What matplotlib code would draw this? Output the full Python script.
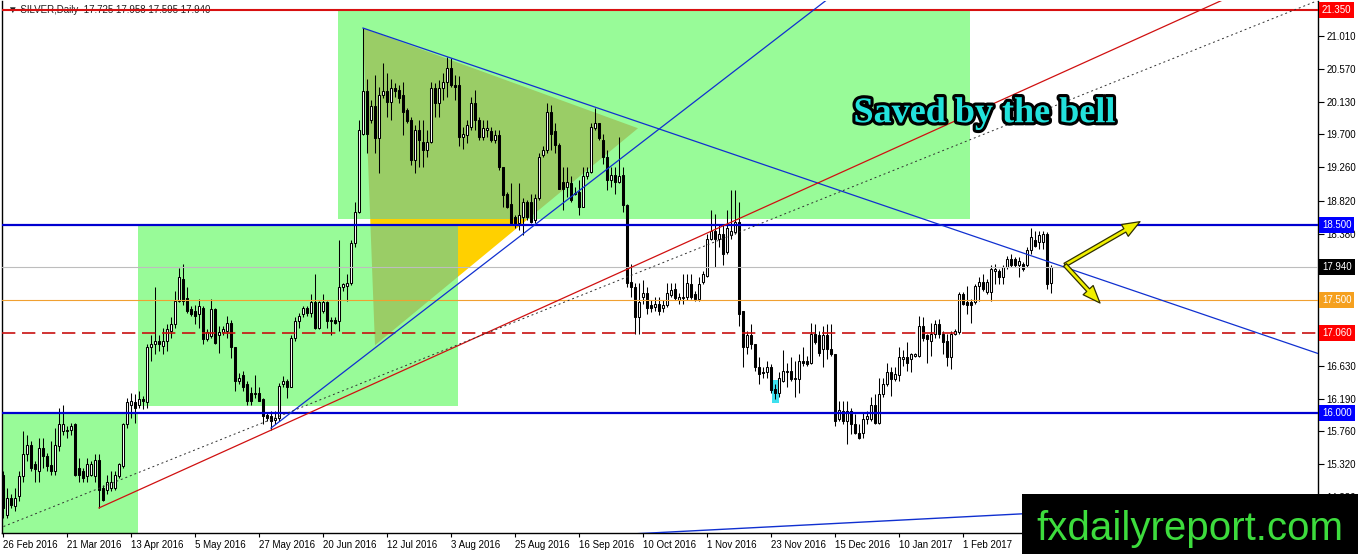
import matplotlib
matplotlib.use("Agg")

import numpy as np
import pandas as pd
import matplotlib.pyplot as plt
import matplotlib.patheffects as pe
from matplotlib import font_manager, transforms
from matplotlib.patches import Rectangle, Polygon

# дневные свечи SILVER, 26 фев 2016 - 3 мар 2017
opens = [
    15.18, 14.65, 14.87, 14.76, 14.90, 15.16, 15.45, 15.58, 15.32, 15.23,
    15.54, 15.43, 15.31, 15.23, 15.56, 15.76, 15.76, 15.78, 15.85, 15.27,
    15.23, 15.16, 15.18, 15.16, 15.38, 15.01, 14.98, 15.01, 15.01, 15.16,
    15.29, 15.85, 16.11, 16.14, 16.11, 16.18, 16.14, 16.87, 16.91, 16.96,
    16.89, 16.96, 17.09, 17.18, 17.49, 17.78, 17.53, 17.38, 17.36, 17.31,
    17.40, 16.98, 17.02, 17.38, 17.04, 17.07, 17.09, 17.20, 16.87, 16.42,
    16.51, 16.38, 16.27, 16.25, 16.27, 16.18, 15.98, 15.96, 15.91, 15.94,
    16.38, 16.42, 16.34, 17.00, 17.22, 17.31, 17.40, 17.33, 17.47, 17.13,
    17.36, 17.47, 17.22, 17.24, 17.22, 17.67, 17.69, 17.72, 18.25, 18.67,
    19.71, 20.27, 19.89, 20.07, 19.65, 20.22, 20.27, 20.13, 20.31, 20.29,
    20.22, 20.02, 19.89, 19.36, 19.76, 19.60, 19.49, 19.60, 20.31, 20.11,
    20.31, 20.40, 20.58, 20.36, 20.36, 19.67, 19.69, 19.80, 20.11, 19.89,
    19.67, 19.76, 19.74, 19.62, 19.69, 19.27, 18.91, 18.78, 18.60, 18.52,
    18.60, 18.80, 18.80, 18.56, 18.85, 19.42, 19.49, 20.00, 19.74, 19.56,
    19.07, 19.00, 19.05, 18.91, 18.94, 18.74, 19.14, 19.20, 19.78, 19.85,
    19.62, 19.40, 19.09, 19.16, 19.07, 19.16, 18.76, 17.74, 17.67, 17.27,
    17.54, 17.59, 17.43, 17.41, 17.45, 17.39, 17.43, 17.56, 17.65, 17.50,
    17.52, 17.54, 17.71, 17.58, 17.51, 17.74, 17.82, 18.31, 18.42, 18.31,
    18.38, 18.14, 18.36, 18.40, 18.53, 17.36, 16.87, 17.03, 16.92, 16.61,
    16.54, 16.54, 16.61, 16.32, 16.27, 16.43, 16.54, 16.56, 16.45, 16.45,
    16.69, 16.69, 16.67, 17.05, 17.03, 16.85, 17.03, 16.85, 16.78, 15.92,
    16.03, 15.90, 16.03, 15.85, 15.74, 15.74, 15.92, 15.92, 16.10, 15.87,
    16.25, 16.38, 16.54, 16.45, 16.50, 16.72, 16.74, 16.72, 16.76, 16.76,
    17.16, 17.03, 16.96, 17.05, 17.18, 17.05, 16.96, 16.74, 17.05, 17.07,
    17.58, 17.47, 17.47, 17.47, 17.69, 17.74, 17.60, 17.60, 17.89, 17.89,
    17.80, 17.94, 18.05, 18.05, 17.96, 17.98, 17.96, 18.16, 18.29, 18.27,
    18.27, 18.38, 17.725,
]
highs = [
    15.23, 15.01, 14.92, 15.01, 15.23, 15.76, 15.71, 15.63, 15.36, 15.67,
    15.67, 15.47, 15.63, 15.80, 16.07, 16.11, 15.83, 15.87, 15.87, 15.40,
    15.27, 15.40, 15.36, 15.45, 15.45, 15.05, 15.18, 15.23, 15.23, 15.34,
    15.87, 16.20, 16.27, 16.25, 16.29, 16.22, 16.91, 17.04, 17.67, 17.04,
    17.13, 17.18, 17.27, 17.62, 17.93, 17.98, 17.67, 17.42, 17.44, 17.51,
    17.42, 17.11, 17.51, 17.40, 17.16, 17.16, 17.29, 17.24, 16.87, 16.53,
    16.56, 16.42, 16.34, 16.51, 16.34, 16.20, 16.00, 16.02, 16.02, 16.40,
    16.49, 16.45, 17.04, 17.27, 17.33, 17.42, 17.42, 17.58, 17.84, 17.49,
    17.58, 17.49, 17.27, 17.27, 18.30, 17.73, 17.84, 18.29, 18.80, 19.89,
    21.11, 20.44, 20.16, 20.49, 20.33, 20.64, 20.51, 20.44, 20.38, 20.36,
    20.40, 20.05, 19.93, 19.82, 19.89, 19.89, 19.76, 20.40, 20.38, 20.42,
    20.51, 20.73, 20.71, 20.49, 20.47, 19.80, 19.89, 20.20, 20.29, 19.93,
    19.89, 19.89, 19.80, 19.76, 19.76, 19.27, 18.94, 19.05, 18.63, 19.05,
    18.85, 18.83, 18.91, 18.91, 19.45, 19.54, 20.11, 20.09, 19.85, 19.58,
    19.27, 19.27, 19.14, 19.00, 19.09, 19.27, 19.27, 19.85, 20.05, 19.85,
    19.71, 19.49, 19.27, 19.27, 19.67, 19.27, 18.78, 17.98, 17.72, 17.72,
    17.76, 17.67, 17.50, 17.54, 17.54, 17.50, 17.72, 17.72, 17.72, 17.59,
    17.85, 17.85, 17.85, 17.62, 17.80, 17.89, 18.38, 18.69, 18.64, 18.51,
    18.51, 18.69, 18.96, 18.96, 18.80, 17.36, 17.09, 17.18, 16.92, 16.74,
    16.61, 16.69, 16.65, 16.38, 16.54, 16.83, 16.67, 16.74, 16.69, 16.78,
    16.87, 16.76, 17.20, 17.18, 17.09, 17.16, 17.18, 17.18, 16.78, 16.16,
    16.16, 16.16, 16.07, 15.99, 15.85, 16.01, 16.03, 16.21, 16.25, 16.47,
    16.47, 16.67, 16.61, 16.61, 16.87, 16.83, 16.94, 16.80, 16.80, 17.29,
    17.27, 17.05, 17.20, 17.23, 17.25, 17.09, 17.05, 17.09, 17.11, 17.60,
    17.60, 17.69, 17.51, 17.71, 17.80, 17.85, 17.78, 17.96, 17.98, 17.91,
    17.96, 18.09, 18.11, 18.07, 18.07, 18.00, 18.20, 18.45, 18.42, 18.42,
    18.42, 18.40, 17.958,
]
lows = [
    14.61, 14.61, 14.74, 14.70, 14.83, 15.09, 15.36, 15.23, 15.09, 15.09,
    15.27, 15.23, 15.18, 15.18, 15.49, 15.71, 15.67, 15.71, 15.16, 15.09,
    15.09, 15.09, 15.16, 15.09, 14.74, 14.83, 14.92, 14.96, 14.98, 15.14,
    15.27, 15.80, 15.94, 15.87, 16.07, 16.05, 16.07, 16.69, 16.78, 16.82,
    16.78, 16.82, 17.00, 17.13, 17.47, 17.44, 17.33, 17.29, 17.18, 17.13,
    16.91, 16.96, 17.00, 16.91, 16.80, 17.04, 17.00, 16.73, 16.29, 16.38,
    16.29, 16.11, 16.11, 16.20, 16.16, 15.85, 15.89, 15.78, 15.85, 15.89,
    16.34, 16.20, 16.34, 16.96, 17.13, 17.27, 17.29, 17.27, 17.11, 17.11,
    17.33, 17.13, 17.04, 17.18, 17.09, 17.62, 17.49, 17.70, 18.21, 18.65,
    19.69, 19.45, 19.85, 19.45, 19.18, 20.18, 19.93, 19.89, 20.20, 20.11,
    19.69, 19.85, 19.29, 19.18, 19.27, 19.27, 19.40, 19.58, 19.93, 19.93,
    20.16, 20.20, 20.33, 20.16, 19.54, 19.51, 19.58, 19.76, 19.76, 19.62,
    19.62, 19.67, 19.60, 19.58, 19.23, 18.74, 18.72, 18.49, 18.45, 18.43,
    18.36, 18.56, 18.52, 18.52, 18.83, 19.40, 19.45, 19.49, 19.45, 18.98,
    18.69, 18.87, 18.80, 18.89, 18.63, 18.74, 19.11, 19.18, 19.76, 19.62,
    19.31, 18.96, 19.00, 18.91, 19.05, 18.67, 17.67, 17.54, 17.05, 17.05,
    17.45, 17.32, 17.34, 17.36, 17.30, 17.34, 17.41, 17.54, 17.50, 17.45,
    17.45, 17.50, 17.51, 17.49, 17.49, 17.71, 17.80, 18.29, 17.94, 18.20,
    17.96, 18.11, 18.31, 18.38, 17.16, 16.61, 16.78, 16.85, 16.56, 16.38,
    16.47, 16.47, 16.27, 16.19, 16.21, 16.41, 16.34, 16.43, 16.21, 16.27,
    16.63, 16.63, 16.65, 16.92, 16.76, 16.61, 16.72, 16.76, 15.83, 15.90,
    15.85, 15.59, 15.72, 15.72, 15.65, 15.67, 15.85, 15.90, 15.85, 15.85,
    16.21, 16.36, 16.23, 16.43, 16.43, 16.63, 16.56, 16.54, 16.74, 16.74,
    16.96, 16.67, 16.76, 17.00, 17.00, 16.78, 16.63, 16.58, 17.03, 17.05,
    17.43, 17.31, 17.20, 17.45, 17.49, 17.62, 17.58, 17.49, 17.71, 17.71,
    17.71, 17.91, 17.94, 17.94, 17.80, 17.89, 17.94, 18.11, 18.20, 18.18,
    18.18, 17.65, 17.595,
]
closes = [
    14.74, 14.87, 14.78, 14.87, 15.16, 15.45, 15.58, 15.27, 15.25, 15.54,
    15.43, 15.29, 15.23, 15.58, 15.85, 15.85, 15.78, 15.83, 15.18, 15.18,
    15.14, 15.32, 15.32, 15.38, 14.98, 14.85, 15.09, 15.09, 15.18, 15.32,
    15.85, 16.14, 16.16, 16.07, 16.18, 16.16, 16.87, 16.91, 16.96, 16.91,
    16.96, 17.11, 17.18, 17.49, 17.80, 17.49, 17.36, 17.31, 17.29, 17.42,
    16.98, 17.07, 17.38, 16.93, 17.07, 17.11, 17.20, 16.87, 16.42, 16.47,
    16.34, 16.16, 16.16, 16.27, 16.16, 15.96, 15.94, 15.89, 15.94, 16.36,
    16.42, 16.34, 17.00, 17.22, 17.29, 17.40, 17.33, 17.47, 17.13, 17.47,
    17.47, 17.22, 17.24, 17.20, 17.67, 17.71, 17.73, 18.25, 18.67, 19.76,
    20.27, 19.71, 20.07, 19.65, 20.22, 20.27, 20.13, 20.31, 20.27, 20.18,
    20.00, 19.87, 19.36, 19.76, 19.62, 19.49, 19.60, 20.31, 20.11, 20.31,
    20.40, 20.58, 20.36, 20.33, 19.67, 19.71, 19.82, 20.11, 19.89, 19.67,
    19.78, 19.78, 19.62, 19.69, 19.27, 18.89, 18.74, 18.52, 18.49, 18.63,
    18.80, 18.60, 18.54, 18.85, 19.40, 19.49, 20.00, 19.71, 19.56, 18.98,
    18.98, 19.07, 18.83, 18.92, 18.74, 19.14, 19.20, 19.80, 19.85, 19.65,
    19.40, 19.09, 19.16, 19.07, 19.14, 18.76, 17.72, 17.67, 17.27, 17.47,
    17.59, 17.39, 17.39, 17.45, 17.36, 17.43, 17.59, 17.63, 17.52, 17.54,
    17.54, 17.72, 17.54, 17.51, 17.71, 17.85, 18.31, 18.42, 18.31, 18.38,
    18.11, 18.45, 18.42, 18.53, 17.31, 16.87, 17.03, 16.92, 16.61, 16.52,
    16.53, 16.61, 16.30, 16.27, 16.47, 16.56, 16.56, 16.45, 16.46, 16.69,
    16.67, 16.65, 17.05, 16.94, 16.80, 17.03, 16.85, 16.78, 15.90, 16.04,
    15.90, 16.03, 15.85, 15.74, 15.67, 15.92, 15.96, 16.10, 15.87, 16.25,
    16.38, 16.54, 16.45, 16.52, 16.74, 16.74, 16.67, 16.78, 16.78, 17.16,
    17.00, 16.98, 17.05, 17.18, 17.05, 16.94, 16.74, 17.05, 17.09, 17.58,
    17.45, 17.43, 17.43, 17.69, 17.74, 17.65, 17.74, 17.91, 17.91, 17.80,
    17.94, 18.05, 17.96, 17.96, 18.02, 17.91, 18.16, 18.33, 18.22, 18.36,
    18.38, 17.71, 17.94,
]

# торговые дни (праздники без баров)
holidays = ["2016-03-25", "2016-12-26", "2017-01-02"]
dates = pd.bdate_range("2016-02-26", periods=len(closes), freq="C", holidays=holidays)

price_ticks = [21.010, 20.570, 20.130, 19.700, 19.260, 18.820, 18.380, 17.940,
               17.500, 17.060, 16.630, 16.190, 15.760, 15.320, 14.880]

# горизонтальные уровни
levels = [21.35, 18.50, 17.94, 17.50, 17.06, 16.00]
level_colors = ["#d81010", "#0000d0", "#bdbdbd", "#f0a030", "#c81010", "#0000d0"]
label_colors = ["#ff0000", "#0000ff", "#000000", "#f5a01e", "#ff0000", "#0000ff"]

# зоны (бар от, бар до, цена низ, цена верх)
zones = [(-5, 33.75, 14.0, 16.0),
         (33.75, 113.75, 16.09, 18.48),
         (83.75, 241.75, 18.57, 21.35)]
triangle = [(90, 21.11), (158.75, 19.78), (93, 16.90)]

# трендовые линии: две точки (бар, цена)
down_line = [(90, 21.11), (111, 20.73)]
up_line = [(67, 15.80), (133, 18.50)]
red_line = [(24, 14.74), (184, 18.58)]
dotted_line = [(0, 14.49), (200, 18.74)]
low_line = [(163, 14.41), (254.25, 14.66)]

cyan_box = (192.25, 194.1, 16.13, 16.44)
arrow_start = (265.5, 17.965)
arrow_ends = [(284.25, 18.54), (274.25, 17.46)]

W, H = 1358, 554
fig = plt.figure(figsize=(W / 100, H / 100), dpi=100, facecolor="white")
ax = fig.add_axes([2 / W, 21 / H, 1316 / W, 532 / H])
ax.set_xlim(-0.25, 328.75)
ax.set_ylim(14.407, 21.469)

axis_font = "Liberation Sans"

# зоны и треугольник
ax.add_patch(Polygon(triangle, closed=True, fc="#ffd000", ec="none", zorder=1.2))
for x0, x1, y0, y1 in zones:
    r = Rectangle((x0, y0), x1 - x0, y1 - y0, fc="#98fb98", ec="none", zorder=1.5)
    ax.add_patch(r)
    t = Polygon(triangle, closed=True, fc="#9acd66", ec="none", zorder=1.8)
    ax.add_patch(t)
    t.set_clip_path(r)

ax.add_patch(Rectangle((cyan_box[0], cyan_box[2]), cyan_box[1] - cyan_box[0],
                       cyan_box[3] - cyan_box[2], fc="#3ee0ee", ec="none", zorder=4))

# свечи
o = np.array(opens)
h = np.array(highs)
l = np.array(lows)
c = np.array(closes)
x = np.arange(len(c))
bull = c >= o
ax.vlines(x, l, h, color="black", lw=0.75, zorder=5)
ax.bar(x, np.abs(c - o), bottom=np.minimum(o, c), width=0.5,
       color=np.where(bull, "white", "black"), edgecolor="black",
       linewidth=0.75, zorder=6)

# уровни
styles = ["-", "-", "-", "-", (0, (8, 4)), "-"]
widths = [1.5, 1.6, 0.8, 0.8, 1.2, 1.6]
for lev, col, ls, lw in zip(levels, level_colors, styles, widths):
    ax.axhline(lev, color=col, ls=ls, lw=lw, zorder=7)


def ray(p, q, x_from, x_to=340):
    k = (q[1] - p[1]) / (q[0] - p[0])
    xs = np.array([x_from, x_to])
    return xs, p[1] + k * (xs - p[0])


ax.plot(*ray(*down_line, down_line[0][0]), color="#1030d0", lw=0.9, zorder=7)
ax.plot(*ray(*up_line, up_line[0][0]), color="#1030d0", lw=0.9, zorder=7)
ax.plot(*ray(*red_line, red_line[0][0]), color="#d01010", lw=0.9, zorder=7)
ax.plot(*ray(*dotted_line, -5), color="#303030", lw=0.7, ls=(0, (2, 3)), zorder=7)
ax.plot(*ray(*low_line, 100), color="#1030d0", lw=1.0, zorder=7)

# стрелки
for end in arrow_ends:
    ax.annotate("", xy=end, xytext=arrow_start, zorder=8,
                arrowprops=dict(arrowstyle="simple,head_length=0.9,head_width=0.7,tail_width=0.2",
                                fc="#f0f000", ec="#303000", lw=0.9,
                                shrinkA=0, shrinkB=0, mutation_scale=14))

ax.text(245.4, 19.86, "Saved by the bell", ha="center", va="baseline",
        fontsize=26, fontweight="bold", family="Liberation Serif",
        color="#22e2dc", zorder=9,
        path_effects=[pe.withStroke(linewidth=4.5, foreground="black")])

# заголовок
ax.text(6 / 1316, 0.983, "\u25bc SILVER,Daily  17.725 17.958 17.595 17.940",
        transform=ax.transAxes, fontsize=7, family=[axis_font, "DejaVu Sans"],
        color="#202020", va="center", ha="left", zorder=2)

# оси; подписи под цветными метками уровней не нужны
ax.yaxis.tick_right()
ax.set_yticks(price_ticks)
ax.set_yticklabels(["" if any(abs(t - v) < 1e-6 for v in levels) else f"{t:.3f}"
                    for t in price_ticks], family=axis_font)
ax.tick_params(axis="y", length=4, pad=2, labelsize=7, width=0.8)

xt = np.arange(0, len(closes) - 16, 16)
ax.set_xticks(xt)
ax.set_xticklabels([f"{dates[i].day} {dates[i]:%b %Y}" for i in xt], family=axis_font)
ax.tick_params(axis="x", length=3, pad=2, labelsize=7, width=0.8)
for lbl in ax.get_xticklabels():
    lbl.set_ha("left")

ax.spines["top"].set_visible(False)
for s in ["left", "right", "bottom"]:
    ax.spines[s].set_linewidth(1.0)

# метки уровней справа
blend = transforms.blended_transform_factory(ax.transAxes, ax.transData)
for lev, col in zip(levels, label_colors):
    ax.text(1 + 4 / 1316, lev, f"{lev:.3f}", transform=blend, ha="left", va="center",
            fontsize=7, family=axis_font, color="white", clip_on=False, zorder=10,
            bbox=dict(boxstyle="square,pad=0.3", fc=col, ec="none"))

# логотип
names = {f.name for f in font_manager.fontManager.ttflist}
if "Liberation Sans Narrow" in names:
    logo_font, logo_size = "Liberation Sans Narrow", 35
else:
    logo_font, logo_size = "Liberation Sans", 29
fig.add_artist(Rectangle((1022 / W, 0), (W - 1022) / W, 60 / H,
                         transform=fig.transFigure, fc="black", ec="none", zorder=20))
fig.text(1190 / W, 14 / H, "fxdailyreport.com", ha="center", va="baseline",
         fontsize=logo_size, family=logo_font, color="#3ddc3d", zorder=21)

fig.savefig("out.png", dpi=100, facecolor="white")
